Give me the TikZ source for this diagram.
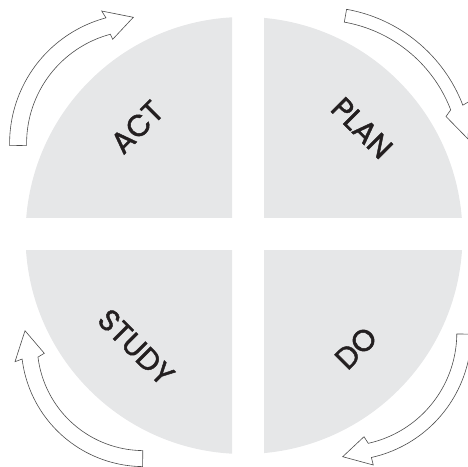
\documentclass[tikz,border=0pt]{standalone}
\usepackage{fontspec}
\setmainfont{Poppins}
\newfontfamily\phasefont{Poppins}[FakeBold=1.5]
\definecolor{discgray}{HTML}{E6E7E8}
\definecolor{arrowline}{HTML}{4D4D4D}
\definecolor{ink}{HTML}{231F20}
\begin{document}
\begin{tikzpicture}[x=1pt,y=-1pt,
  quarter/.style={fill=discgray},
  looparrow/.style={draw=arrowline, fill=white, line width=0.6pt, line join=miter},
  phase/.style={font=\phasefont\fontsize{30}{30}\selectfont, text=ink, inner sep=0pt}]
\useasboundingbox (0,0) rectangle (468,466);
\clip (0,0) rectangle (468,466);

% one disc, split into four quarters by a white cross
\coordinate (c) at (244,235.5);
\begin{scope}
  \clip (0,0) rectangle (232,217.6);
  \fill[quarter] (c) circle[radius=218.5pt];
\end{scope}
\begin{scope}
  \clip (264,0) rectangle (468,217.6);
  \fill[quarter] (c) circle[radius=218.5pt];
\end{scope}
\begin{scope}
  \clip (0,250.4) rectangle (232,466);
  \fill[quarter] (c) circle[radius=218.5pt];
\end{scope}
\begin{scope}
  \clip (264,250.4) rectangle (468,466);
  \fill[quarter] (c) circle[radius=218.5pt];
\end{scope}

% phase labels
\node[phase, rotate=45]  (act)   at (137,127) {ACT};
\node[phase, rotate=-45] (plan)  at (362,128) {PLAN};
\node[phase, rotate=-45] (study) at (136,347) {STUDY};
\node[phase, rotate=45]  (do)    at (356,348) {DO};

% clockwise block arrows around the disc
% Act -> Plan (upper left)
\draw[looparrow]
  plot[domain=179:255, samples=40] ({139.6+130*cos(\x)},{143.4+130*sin(\x)})
  -- (101.7,11) -- (133.3,17.3) -- (112.7,39.3)
  -- plot[domain=255:179, samples=40] ({139.6+113*cos(\x)},{143.4+113*sin(\x)})
  -- cycle;
% Plan -> Do (upper right)
\draw[looparrow]
  plot[domain=-80:-21, samples=40] ({320+153*cos(\x)},{160+153*sin(\x)})
  -- (470,101) -- (468,139) -- (446,116.5)
  -- plot[domain=-21:-80, samples=40] ({320+140*cos(\x)},{160+140*sin(\x)})
  -- cycle;
% Do -> Study (lower right)
\draw[looparrow]
  plot[domain=0.5:77.5, samples=40] ({343.8+127.5*cos(\x)},{333+127.5*sin(\x)})
  -- (373.3,465) -- (342.7,456.7) -- (364,436.7)
  -- plot[domain=77.5:0.5, samples=40] ({343.8+113*cos(\x)},{333+113*sin(\x)})
  -- cycle;
% Study -> Act (lower left)
\draw[looparrow]
  plot[domain=90.5:173, samples=40] ({143.7+122.5*cos(\x)},{344.1+122.5*sin(\x)})
  -- (15,361.7) -- (25,330.7) -- (44.3,353.3)
  -- plot[domain=173:90.5, samples=40] ({143.7+106.5*cos(\x)},{344.1+106.5*sin(\x)})
  -- cycle;
\end{tikzpicture}
\end{document}
